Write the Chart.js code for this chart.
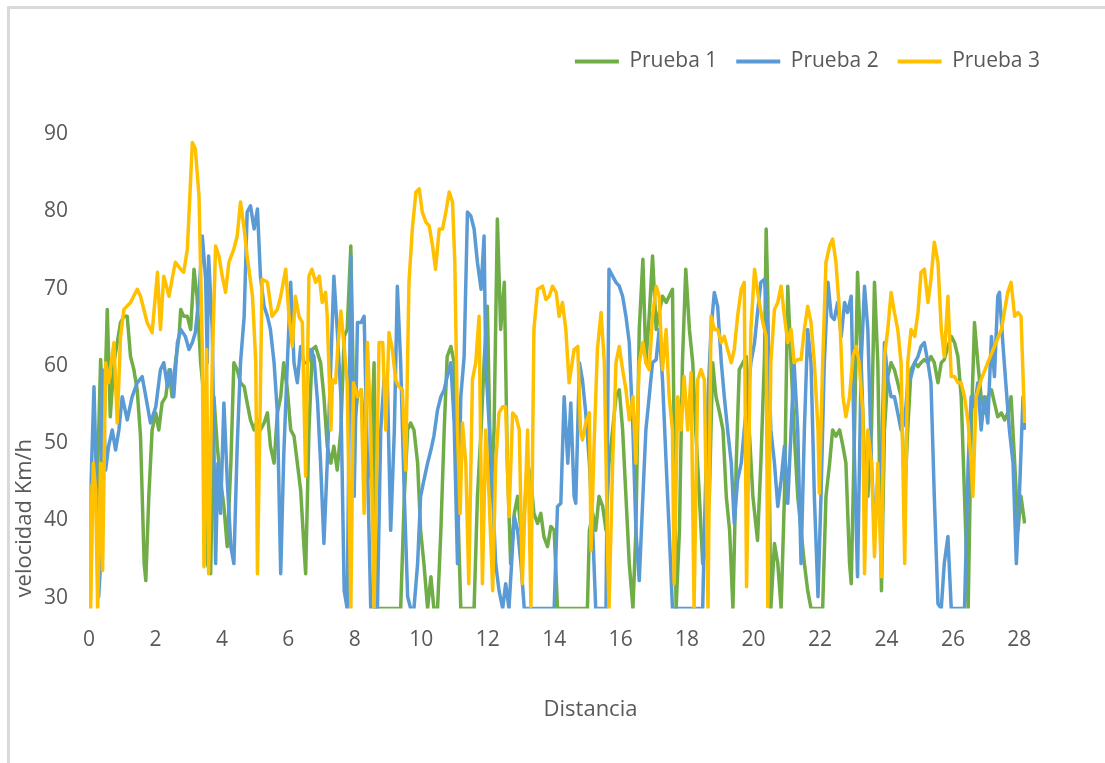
<!DOCTYPE html>
<html>
<head>
<meta charset="utf-8">
<title>Velocidad vs distancia</title>
<script src="https://cdn.jsdelivr.net/npm/chart.js@4.4.1/dist/chart.umd.min.js"></script>
<style>
  html, body { margin: 0; padding: 0; background: #fff; }
  #wrap { position: relative; width: 1105px; height: 763px; overflow: hidden; }
  #frame {
    position: absolute; left: 7px; top: 6px; width: 1200px; height: 900px;
    border-left: 3px solid #d9d9d9; border-top: 3px solid #d9d9d9;
    pointer-events: none;
  }
</style>
</head>
<body>
<div id="wrap">
  <canvas id="chart" width="1105" height="763"></canvas>
  <div id="frame"></div>
</div>
<script>
///////////////////////////////////////////////////////////////
// data  [distancia km, velocidad km/h]
///////////////////////////////////////////////////////////////

const SERIES_NAMES = ['Prueba 1', 'Prueba 2', 'Prueba 3'];
const SERIES_COLORS = ['#70ad47', '#5b9bd5', '#ffc000'];

const X_TICKS = [0, 2, 4, 6, 8, 10, 12, 14, 16, 18, 20, 22, 24, 26, 28];
const X_MAX = 28.2;
const Y_TICKS = [30, 40, 50, 60, 70, 80, 90];
const Y_MIN = 28.6;
const Y_MAX = 90;

const PRUEBA_1 = [
  [0.24,43.1],[0.35,60.8],[0.45,51.7],[0.55,67.3],[0.64,53.4],[0.75,60.4],[0.85,63.0],[0.95,65.6],[1.05,66.4],[1.15,66.4],
  [1.25,61.2],[1.35,59.5],[1.45,56.9],[1.55,50.9],[1.66,34.4],[1.71,32.2],[1.80,43.1],[1.90,51.7],[2.01,53.9],[2.10,51.7],
  [2.20,55.2],[2.31,56.0],[2.41,59.5],[2.50,56.0],[2.60,60.4],[2.71,63.8],[2.76,67.3],[2.85,66.4],[2.96,66.4],[3.06,64.7],
  [3.16,72.5],[3.25,69.0],[3.36,60.4],[3.46,56.0],[3.56,34.4],[3.66,33.1],[3.76,56.0],[3.86,49.6],[3.96,45.2],[4.06,41.8],
  [4.16,36.6],[4.27,47.4],[4.36,60.4],[4.46,59.5],[4.56,57.8],[4.67,57.3],[4.76,55.2],[4.86,53.0],[4.97,51.7],[5.07,53.0],
  [5.16,51.7],[5.27,52.6],[5.37,53.9],[5.46,49.6],[5.57,47.4],[5.67,53.9],[5.77,56.0],[5.86,60.4],[5.97,56.9],[6.07,51.7],
  [6.17,50.9],[6.27,47.4],[6.37,43.9],[6.47,36.6],[6.52,33.1],[6.62,51.7],[6.72,62.1],[6.82,62.5],[6.97,60.4],[7.07,56.0],
  [7.17,49.6],[7.28,47.4],[7.37,49.6],[7.47,46.5],[7.58,51.7],[7.68,63.8],[7.77,64.7],[7.88,75.5],[7.98,51.7],[8.08,56.0],
  [8.19,56.9],[8.28,51.7],[8.38,45.2],[8.48,47.4],[8.58,60.4],[8.63,28.6],[9.38,28.6],[9.49,43.1],[9.59,51.7],[9.68,52.6],
  [9.78,51.7],[9.89,47.4],[9.98,38.7],[10.08,34.4],[10.19,28.6],[10.29,32.7],[10.38,28.6],[10.49,28.6],[10.59,38.7],[10.69,51.7],
  [10.78,61.2],[10.89,62.5],[10.99,60.4],[11.09,43.1],[11.19,28.6],[11.59,28.6],[11.69,43.1],[11.80,51.7],[11.89,60.4],[11.99,67.7],
  [12.10,43.1],[12.19,51.7],[12.29,79.0],[12.39,64.7],[12.50,70.8],[12.59,47.4],[12.69,34.4],[12.80,40.9],[12.90,43.1],[13.00,38.7],
  [13.10,40.9],[13.20,47.4],[13.30,45.2],[13.39,40.9],[13.50,39.6],[13.60,40.9],[13.69,37.9],[13.80,36.6],[13.90,39.2],[14.00,38.7],
  [14.10,28.6],[15.00,28.6],[15.06,38.7],[15.16,40.9],[15.25,38.7],[15.35,43.1],[15.46,41.8],[15.56,38.7],[15.65,47.4],[15.76,51.7],
  [15.86,56.0],[15.96,56.9],[16.06,51.7],[16.16,43.1],[16.26,34.4],[16.37,28.6],[16.46,38.7],[16.56,64.7],[16.67,73.8],[16.76,60.4],
  [16.86,66.4],[16.96,74.2],[17.07,64.7],[17.16,66.9],[17.26,69.0],[17.37,68.2],[17.46,69.0],[17.56,69.9],[17.67,28.6],[17.77,38.7],
  [17.86,60.4],[17.96,72.5],[18.07,64.7],[18.17,60.4],[18.26,51.7],[18.37,43.1],[18.47,34.4],[18.57,36.6],[18.67,43.1],[18.77,60.4],
  [18.87,56.0],[18.98,53.9],[19.08,51.7],[19.18,43.1],[19.28,38.7],[19.38,28.6],[19.48,47.4],[19.57,59.5],[19.68,60.4],[19.78,61.2],
  [19.87,51.7],[19.98,43.1],[20.12,37.4],[20.22,47.4],[20.33,61.2],[20.38,77.7],[20.43,69.0],[20.47,47.4],[20.52,28.6],[20.63,37.0],
  [20.73,34.4],[20.83,28.6],[20.93,43.1],[21.03,70.3],[21.13,60.4],[21.22,51.7],[21.33,43.1],[21.43,38.7],[21.53,34.4],[21.63,30.9],
  [21.73,28.6],[22.08,28.6],[22.18,43.1],[22.29,47.4],[22.38,51.7],[22.48,50.9],[22.59,51.7],[22.69,49.6],[22.78,47.4],[22.89,34.4],
  [22.94,31.8],[23.04,51.7],[23.13,72.1],[23.24,60.4],[23.34,47.4],[23.44,43.1],[23.55,51.7],[23.64,70.8],[23.74,60.4],[23.85,30.9],
  [23.94,51.7],[24.04,58.6],[24.14,60.4],[24.24,59.5],[24.34,57.8],[24.44,56.0],[24.55,43.1],[24.64,51.7],[24.74,59.5],[24.85,60.4],
  [24.95,59.9],[25.04,60.4],[25.14,60.8],[25.25,60.4],[25.34,61.2],[25.44,60.4],[25.55,57.8],[25.65,60.4],[25.74,60.8],[25.85,62.5],
  [25.95,63.8],[26.05,63.0],[26.15,61.2],[26.25,56.0],[26.35,43.1],[26.46,28.6],[26.55,51.7],[26.65,65.6],[26.75,60.4],[26.85,56.0],
  [26.95,53.9],[27.05,56.0],[27.16,56.9],[27.25,55.2],[27.35,53.4],[27.46,53.9],[27.56,53.0],[27.65,53.9],[27.75,56.0],[27.86,47.4],
  [27.96,38.7],[28.05,43.1],[28.16,39.6]
];

const PRUEBA_2 = [
  [0.00,34.4],[0.08,47.4],[0.15,57.3],[0.21,47.4],[0.29,30.1],[0.35,34.4],[0.40,59.5],[0.50,46.5],[0.59,49.6],[0.70,51.7],
  [0.80,49.1],[0.90,51.7],[1.00,56.0],[1.15,53.0],[1.30,56.0],[1.45,57.8],[1.60,58.6],[1.71,56.0],[1.85,52.6],[2.01,54.7],
  [2.15,59.5],[2.25,60.4],[2.36,57.3],[2.45,59.5],[2.55,56.0],[2.66,63.0],[2.76,64.7],[2.90,63.8],[3.01,62.1],[3.11,63.0],
  [3.20,64.3],[3.31,69.0],[3.41,76.8],[3.51,71.2],[3.56,60.4],[3.60,74.2],[3.71,64.7],[3.81,34.4],[3.88,47.4],[3.96,40.9],
  [4.06,55.2],[4.16,45.2],[4.27,36.6],[4.36,34.4],[4.46,49.6],[4.56,60.4],[4.67,66.4],[4.76,79.9],[4.86,80.7],[4.97,77.7],
  [5.07,80.3],[5.16,71.6],[5.27,67.7],[5.37,66.4],[5.46,64.7],[5.57,60.4],[5.67,53.9],[5.77,33.1],[5.86,48.3],[5.97,60.4],
  [6.07,70.8],[6.17,60.4],[6.27,57.8],[6.37,62.5],[6.47,60.4],[6.58,60.4],[6.67,62.1],[6.77,61.2],[6.88,55.2],[6.97,47.4],
  [7.07,37.0],[7.17,47.4],[7.28,60.4],[7.37,71.6],[7.47,64.7],[7.58,56.0],[7.68,30.9],[7.77,28.6],[7.88,74.2],[7.98,43.1],
  [8.08,65.6],[8.19,65.6],[8.28,66.4],[8.38,47.4],[8.48,28.6],[8.68,28.6],[8.78,51.7],[8.88,58.2],[8.98,57.8],[9.08,38.7],
  [9.19,51.7],[9.28,70.3],[9.38,60.4],[9.49,43.1],[9.59,30.1],[9.68,28.6],[9.78,28.6],[9.89,34.4],[9.98,43.1],[10.08,45.2],
  [10.19,47.4],[10.29,49.1],[10.38,50.9],[10.49,54.3],[10.59,56.0],[10.69,56.9],[10.78,58.6],[10.89,60.4],[10.99,52.6],[11.09,34.4],
  [11.19,56.0],[11.29,61.2],[11.39,79.9],[11.49,79.4],[11.59,77.7],[11.69,73.4],[11.80,69.9],[11.89,76.8],[11.94,60.4],[12.04,52.6],
  [12.15,43.1],[12.24,34.4],[12.34,30.9],[12.45,28.6],[12.54,31.8],[12.64,28.6],[12.80,40.5],[12.90,38.7],[13.00,34.4],[13.10,28.6],
  [14.00,28.6],[14.10,41.8],[14.20,42.2],[14.30,56.0],[14.41,47.4],[14.50,55.2],[14.60,43.1],[14.65,42.2],[14.76,60.4],[14.85,58.2],
  [14.95,53.9],[15.06,47.4],[15.16,38.7],[15.25,28.6],[15.56,28.6],[15.65,72.5],[15.76,71.6],[15.86,70.8],[15.96,70.3],[16.06,69.0],
  [16.16,66.4],[16.26,63.0],[16.37,51.7],[16.46,38.7],[16.56,32.2],[16.67,43.1],[16.76,51.7],[16.86,56.0],[16.96,60.4],[17.07,60.8],
  [17.16,64.7],[17.26,58.2],[17.37,47.4],[17.46,38.7],[17.56,28.6],[18.47,28.6],[18.52,38.7],[18.63,56.0],[18.72,64.7],[18.82,69.5],
  [18.92,67.7],[19.03,60.4],[19.12,56.0],[19.22,51.7],[19.33,47.4],[19.42,39.6],[19.52,45.2],[19.63,47.4],[19.72,51.7],[19.82,56.0],
  [19.92,60.4],[20.03,63.0],[20.12,66.9],[20.22,70.8],[20.33,71.2],[20.43,64.7],[20.52,51.7],[20.63,47.4],[20.73,41.8],[20.83,45.2],
  [20.93,49.6],[21.03,42.2],[21.13,51.7],[21.22,60.4],[21.33,51.7],[21.43,34.4],[21.53,51.7],[21.63,64.7],[21.73,60.4],[21.83,43.1],
  [21.94,30.1],[22.03,43.1],[22.13,60.4],[22.24,70.8],[22.34,66.4],[22.43,66.0],[22.53,68.2],[22.64,63.8],[22.74,68.2],[22.83,66.9],
  [22.94,69.0],[23.04,47.4],[23.13,32.7],[23.24,60.4],[23.34,70.3],[23.44,64.7],[23.55,47.4],[23.64,38.7],[23.74,45.2],[23.85,47.4],
  [23.94,63.0],[24.04,58.2],[24.14,56.0],[24.24,56.0],[24.34,53.9],[24.44,51.7],[24.55,52.6],[24.64,57.8],[24.74,58.6],[24.85,60.4],
  [24.95,61.2],[25.04,62.5],[25.14,63.0],[25.25,60.4],[25.34,57.8],[25.44,43.1],[25.55,29.2],[25.65,28.6],[25.74,34.4],[25.85,37.9],
  [25.95,28.6],[26.35,28.6],[26.46,47.4],[26.55,56.0],[26.65,54.7],[26.75,57.8],[26.85,51.7],[26.95,56.0],[27.05,52.6],[27.16,63.8],
  [27.25,58.6],[27.35,69.0],[27.40,69.5],[27.51,62.5],[27.60,57.3],[27.70,51.7],[27.81,47.4],[27.91,34.4],[28.00,43.1],[28.11,56.0],
  [28.16,51.7]
];

const PRUEBA_3 = [
  [0.00,44.8],[0.05,28.6],[0.13,47.4],[0.20,43.9],[0.26,28.6],[0.35,47.4],[0.41,33.5],[0.50,60.4],[0.59,57.8],[0.75,63.0],
  [0.85,52.6],[0.95,63.8],[1.05,67.3],[1.25,68.2],[1.45,69.9],[1.55,69.0],[1.75,65.6],[1.90,64.3],[2.06,72.1],[2.15,64.7],
  [2.25,71.6],[2.41,69.0],[2.50,71.2],[2.60,73.4],[2.76,72.5],[2.85,72.1],[2.96,75.1],[3.11,88.9],[3.20,88.1],[3.31,82.0],
  [3.41,62.5],[3.46,34.0],[3.54,62.1],[3.60,33.1],[3.71,60.4],[3.81,75.5],[3.91,74.2],[4.01,71.6],[4.11,69.5],[4.21,73.4],
  [4.36,75.1],[4.46,76.8],[4.56,81.2],[4.67,77.7],[4.76,74.2],[4.92,69.0],[5.02,60.4],[5.07,33.1],[5.14,51.7],[5.21,71.2],
  [5.37,70.8],[5.51,66.4],[5.67,67.3],[5.77,69.0],[5.92,72.5],[6.02,66.4],[6.12,62.5],[6.21,69.0],[6.32,66.4],[6.42,65.6],
  [6.52,45.7],[6.62,71.6],[6.71,72.5],[6.82,70.8],[6.93,71.6],[7.02,68.2],[7.12,69.5],[7.17,66.4],[7.28,51.7],[7.33,58.2],
  [7.42,57.8],[7.49,62.5],[7.58,67.1],[7.68,62.5],[7.77,57.8],[7.88,28.6],[7.96,57.8],[8.08,56.0],[8.19,56.9],[8.28,40.9],
  [8.38,63.0],[8.48,51.7],[8.58,28.6],[8.73,63.0],[8.84,63.0],[8.93,51.7],[9.03,64.3],[9.13,62.1],[9.23,58.2],[9.33,57.3],
  [9.43,56.9],[9.53,46.5],[9.63,70.8],[9.73,77.7],[9.84,82.5],[9.94,82.9],[10.03,79.9],[10.14,78.6],[10.24,78.1],[10.34,75.5],
  [10.43,72.5],[10.54,77.7],[10.64,77.7],[10.74,79.9],[10.84,82.5],[10.94,81.2],[11.01,73.4],[11.09,51.7],[11.17,40.9],[11.24,52.6],
  [11.34,47.4],[11.43,31.8],[11.54,58.2],[11.64,60.4],[11.74,66.4],[11.84,31.8],[11.94,51.7],[12.04,43.1],[12.15,30.9],[12.24,47.4],
  [12.34,53.9],[12.45,54.7],[12.54,54.7],[12.64,40.5],[12.75,53.9],[12.85,53.4],[12.95,51.7],[13.04,31.8],[13.20,51.7],[13.30,28.8],
  [13.39,64.7],[13.50,69.9],[13.65,70.3],[13.75,68.6],[13.85,69.0],[13.95,70.3],[14.06,69.5],[14.15,66.4],[14.25,68.2],[14.35,64.7],
  [14.45,57.8],[14.60,62.1],[14.71,62.5],[14.79,51.7],[14.85,50.4],[14.95,52.6],[15.06,53.9],[15.11,36.1],[15.20,49.6],[15.30,62.1],
  [15.41,66.9],[15.51,60.4],[15.61,35.3],[15.65,28.6],[15.76,47.4],[15.86,60.4],[15.96,62.5],[16.06,59.5],[16.16,56.9],[16.26,53.0],
  [16.37,56.0],[16.46,47.4],[16.56,60.4],[16.67,63.0],[16.76,60.4],[16.86,59.5],[16.96,66.4],[17.07,70.3],[17.16,69.0],[17.26,59.5],
  [17.37,64.7],[17.46,56.0],[17.56,51.7],[17.61,31.8],[17.72,56.0],[17.82,51.7],[17.91,58.6],[18.02,51.7],[18.12,59.1],[18.21,28.6],
  [18.32,58.2],[18.42,59.5],[18.52,58.2],[18.63,28.6],[18.72,66.4],[18.82,64.7],[18.92,64.7],[19.03,63.0],[19.12,63.8],[19.22,62.1],
  [19.33,60.4],[19.42,62.1],[19.52,66.4],[19.63,69.9],[19.72,70.8],[19.79,31.4],[19.92,64.7],[20.03,72.5],[20.17,68.2],[20.28,65.6],
  [20.38,63.8],[20.43,28.8],[20.52,60.4],[20.63,67.3],[20.73,68.2],[20.83,70.3],[20.93,66.4],[21.03,63.0],[21.13,64.7],[21.22,60.4],
  [21.33,60.8],[21.43,60.8],[21.53,64.7],[21.63,67.7],[21.73,65.6],[21.83,60.4],[21.94,51.7],[21.98,43.5],[22.08,60.4],[22.18,73.4],
  [22.29,75.5],[22.38,76.4],[22.48,73.4],[22.59,66.9],[22.69,56.0],[22.78,53.4],[22.89,56.0],[22.99,61.2],[23.09,62.5],[23.18,60.4],
  [23.29,53.9],[23.34,33.1],[23.44,51.7],[23.55,47.4],[23.64,35.3],[23.74,47.4],[23.85,32.7],[23.94,61.2],[24.04,64.7],[24.14,69.5],
  [24.24,66.9],[24.34,64.7],[24.44,60.4],[24.55,34.4],[24.64,60.4],[24.74,64.7],[24.85,63.8],[24.95,66.9],[25.04,72.1],[25.14,72.5],
  [25.25,68.2],[25.34,71.2],[25.44,76.0],[25.55,73.4],[25.65,64.7],[25.74,61.2],[25.85,69.0],[25.95,58.6],[26.05,58.6],[26.15,57.8],
  [26.25,57.8],[26.35,56.0],[26.46,52.6],[26.55,47.4],[26.60,43.1],[26.70,56.0],[26.85,58.2],[27.05,60.4],[27.25,62.5],[27.46,64.7],
  [27.65,69.5],[27.75,70.8],[27.86,66.4],[27.96,66.9],[28.05,66.4],[28.16,52.6]
];

const SERIES_DATA = [PRUEBA_1, PRUEBA_2, PRUEBA_3];

///////////////////////////////////////////////////////////////
// chart
///////////////////////////////////////////////////////////////

const TEXT = '#595959';
Chart.defaults.font.family = "'Open Sans', sans-serif";
Chart.defaults.color = TEXT;

// extra room between legend row and plot area
const legendGap = {
  id: 'legendGap',
  beforeInit(chart) {
    const fit = chart.legend.fit;
    chart.legend.fit = function () {
      fit.bind(chart.legend)();
      this.height += 52;
    };
  }
};

const datasets = SERIES_DATA.map((rows, i) => ({
  label: SERIES_NAMES[i],
  data: rows.map(([x, y]) => ({ x, y })),
  borderColor: SERIES_COLORS[i],
  backgroundColor: SERIES_COLORS[i],
  borderWidth: 3.5,
  borderJoinStyle: 'round',
  pointRadius: 0,
  tension: 0,
  order: SERIES_DATA.length - i   // Prueba 3 drawn on top
}));

new Chart(document.getElementById('chart').getContext('2d'), {
  type: 'line',
  data: { datasets },
  options: {
    responsive: false,
    animation: false,
    devicePixelRatio: 1,
    layout: { padding: { top: 32, right: 46, bottom: 40, left: 0 } },
    plugins: {
      tooltip: { enabled: false },
      legend: {
        position: 'top',
        align: 'end',
        labels: {
          color: TEXT,
          font: { size: 21 },
          boxWidth: 44,
          boxHeight: 4,
          padding: 19,
          generateLabels(chart) {
            return Chart.defaults.plugins.legend.labels.generateLabels(chart)
              .sort((a, b) => a.datasetIndex - b.datasetIndex)
              .map(l => ({ ...l, lineWidth: 0 }));
          }
        }
      }
    },
    scales: {
      x: {
        type: 'linear',
        min: 0,
        max: X_MAX,
        grid: { display: false, drawTicks: false },
        border: { display: false },
        afterBuildTicks(scale) { scale.ticks = X_TICKS.map(v => ({ value: v })); },
        afterFit(scale) { scale.paddingRight = 79; },
        ticks: { padding: 19, color: TEXT, font: { size: 21 } },
        title: {
          display: true,
          text: '\u2003\u2003\u2003Distancia',
          color: TEXT,
          font: { size: 22 },
          padding: { top: 25, bottom: 0 }
        }
      },
      y: {
        type: 'linear',
        min: Y_MIN,
        max: Y_MAX,
        grid: { display: false, drawTicks: false },
        border: { display: false },
        afterBuildTicks(scale) { scale.ticks = Y_TICKS.map(v => ({ value: v })); },
        afterFit(scale) { scale.width = 89; },
        ticks: { padding: 21, color: TEXT, font: { size: 21 } },
        title: {
          display: true,
          text: '\u2002velocidad Km/h',
          align: 'start',
          color: TEXT,
          font: { size: 22 },
          padding: { top: 12, bottom: 0 }
        }
      }
    }
  },
  plugins: [legendGap]
});
</script>
</body>
</html>
